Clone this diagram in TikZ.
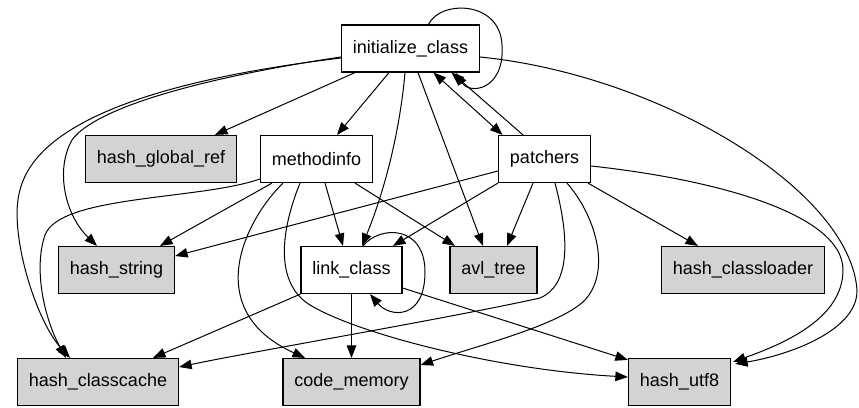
\documentclass[tikz,border=0pt]{standalone}
\usepackage{fontspec}
\setmainfont{Liberation Sans}
\usepackage{tikz}
\usetikzlibrary{arrows.meta,calc}
\definecolor{boxgray}{RGB}{211,211,211}
\tikzset{
    block/.style = {
        draw,
        shape=rectangle,
        minimum height=47pt,
        inner xsep=11.5pt,
        line width=1.2pt,
        font=\fontsize{18}{20}\selectfont
    },
    leaf/.style = {
        block,
        fill=boxgray
    },
    >={Triangle[length=12.5pt,width=9.5pt]},
}

\begin{document}
\begin{tikzpicture}[x=1pt, y=-1pt, line width=1pt]
    \useasboundingbox (0,0) rectangle (859,407);

    \node[block] (init)        at (410.5, 48.5) {initialize\_class};
    \node[leaf]  (globalref)   at (161,   159)  {hash\_global\_ref};
    \node[block] (methodinfo)  at (316.5, 159)  {methodinfo};
    \node[block] (patchers)    at (544.5, 159)  {patchers};
    \node[leaf]  (hstring)     at (116.5, 270)  {hash\_string};
    \node[block] (link)        at (351.5, 270)  {link\_class};
    \node[leaf]  (avl)         at (493.5, 270)  {avl\_tree};
    \node[leaf]  (hloader)     at (743,   270)  {hash\_classloader};
    \node[leaf]  (hcache)      at (98,    382)  {hash\_classcache};
    \node[leaf]  (codemem)     at (351.5, 382)  {code\_memory};
    \node[leaf]  (hutf)        at (679.5, 382)  {hash\_utf8};

    % initialize_class
    \draw[->] ([xshift=18pt]init.north) .. controls (440,0) and (500,0) .. (502,45)
        .. controls (505,90) and (470,95) .. ([xshift=45pt]init.south);
    \draw[->] ([xshift=-55.5pt]init.south) -- ([xshift=54pt]globalref.north);
    \draw[->] ([xshift=-21.5pt]init.south) -- ([xshift=20.5pt]methodinfo.north);
    \draw[->] ([xshift=-5.5pt]init.south) .. controls (400,130) and (385,190) .. ([xshift=10.5pt]link.north);
    \draw[->] ([xshift=7.5pt]init.south) -- ([xshift=-10.5pt]avl.north);
    \draw[<->] ([xshift=23pt]init.south) -- ([xshift=-42pt]patchers.north);
    \draw[->] ([xshift=-21.5pt]patchers.north) -- ([xshift=41pt]init.south);
    \draw[->] ([yshift=-8.5pt]init.west) .. controls (200,78) and (95,108) .. (72,140)
        .. controls (55,170) and (65,215) .. ([xshift=-19.5pt]hstring.north);
    \draw[->] ([yshift=-9.5pt]init.west) .. controls (200,75) and (40,110) .. (20,190)
        .. controls (8,230) and (35,320) .. ([xshift=-28pt]hcache.north);
    \draw[->] ([yshift=-8.5pt]init.east) .. controls (660,75) and (850,190) .. (857,290)
        .. controls (858,330) and (790,355) .. ([xshift=4pt,yshift=-6pt]hutf.north east);

    % methodinfo
    \draw[->] ([yshift=-20pt]methodinfo.west) .. controls (200,200) and (60,195) .. (45,235)
        .. controls (33,270) and (45,320) .. ([xshift=-32pt]hcache.north);
    \draw[->] ([xshift=-44.5pt]methodinfo.south) -- ([xshift=43.5pt]hstring.north);
    \draw[->] ([xshift=-33.5pt]methodinfo.south) .. controls (245,220) and (200,310) .. ([xshift=-46.5pt]codemem.north);
    \draw[->] ([xshift=-16.5pt]methodinfo.south) .. controls (285,220) and (270,280) .. (310,305)
        .. controls (360,335) and (500,370) .. ([yshift=5pt]hutf.west);
    \draw[->] ([xshift=8.5pt]methodinfo.south) -- ([xshift=-8.5pt]link.north);
    \draw[->] ([xshift=38.5pt]methodinfo.south) -- ([xshift=-38.5pt]avl.north);

    % patchers
    \draw[->] ([yshift=-12pt]patchers.west) -- ([yshift=14pt]hstring.east);
    \draw[->] (patchers.south west) -- ([xshift=41.5pt]link.north);
    \draw[->] ([xshift=-11.5pt]patchers.south) -- ([xshift=13.5pt]avl.north);
    \draw[->] ([xshift=43.5pt]patchers.south) -- ([xshift=-45pt]hloader.north);
    \draw[->] ([xshift=10.5pt]patchers.south) .. controls (570,240) and (570,285) .. (540,298)
        .. controls (450,318) and (250,352) .. ([yshift=15pt]hcache.east);
    \draw[->] ([xshift=22.5pt]patchers.south) .. controls (595,215) and (612,270) .. (585,300)
        .. controls (560,325) and (480,345) .. ([yshift=17pt]codemem.east);
    \draw[->] ([yshift=-7pt]patchers.east) .. controls (720,180) and (843,215) .. (843,270)
        .. controls (843,320) and (780,345) .. ([xshift=2pt,yshift=-4pt]hutf.north east);

    % link_class
    \draw[->] ([xshift=11.5pt]link.north) .. controls (380,225) and (425,225) .. (425,272)
        .. controls (425,320) and (390,318) .. ([xshift=18.5pt]link.south);
    \draw[->] (link.south west) -- ([xshift=55pt]hcache.north);
    \draw[->] (link.south) -- (codemem.north);
    \draw[->] ([yshift=-18pt]link.east) -- ([yshift=-2pt]hutf.north west);
\end{tikzpicture}
\end{document}
